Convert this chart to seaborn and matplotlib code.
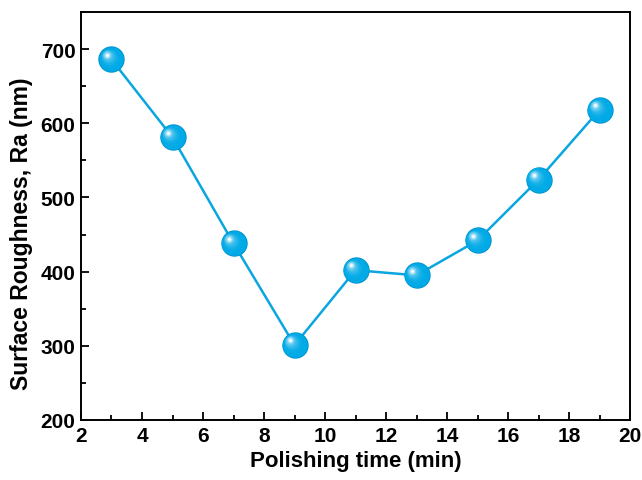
import numpy as np
import pandas as pd
import matplotlib
matplotlib.use("Agg")
import matplotlib.pyplot as plt
import matplotlib.transforms as mtransforms
from matplotlib.colors import to_rgb
from matplotlib.ticker import MultipleLocator
import seaborn as sns

# Polishing time (min) and measured surface roughness Ra (nm)
polishing_time = [3, 5, 7, 9, 11, 13, 15, 17, 19]
roughness_ra = [686, 581, 438, 301, 402, 395, 442, 524, 618]

sns.set_style("ticks")
plt.rcParams["font.family"] = ["Liberation Sans", "DejaVu Sans"]
plt.rcParams["font.weight"] = "bold"
plt.rcParams["text.color"] = "black"
plt.rcParams["axes.labelcolor"] = "black"
plt.rcParams["xtick.color"] = "black"
plt.rcParams["ytick.color"] = "black"

df = pd.DataFrame({"time": polishing_time, "ra": roughness_ra})

fig = plt.figure(figsize=(6.42, 4.81), dpi=100)
ax = fig.add_axes([81 / 642, 1 - 421 / 481, 549 / 642, 408 / 481])

base = "#00aae6"
sns.lineplot(data=df, x="time", y="ra", ax=ax, color="#0aa6e0", lw=1.8,
             marker=None, zorder=2)

# Shaded spheres: stacked discs shrinking toward an upper-left highlight
msize = 19
base_rgb = np.array(to_rgb(base))
dark_rgb = np.array(to_rgb("#0092cc"))
white = np.array([1.0, 1.0, 1.0])
ax.plot(df["time"], df["ra"], ls="none", marker="o", ms=msize,
        mfc=dark_rgb, mec="none", zorder=3)
n = 22
for i in range(n):
    f = i / (n - 1)
    size = msize * (0.93 - 0.85 * f)
    w = f ** 3.0
    col = base_rgb * (1 - w) + white * w
    shift = (msize / 2) * 0.36 * min(1.0, f * 1.3)
    tr = mtransforms.offset_copy(ax.transData, fig=fig, x=-shift, y=shift,
                                 units="points")
    ax.plot(df["time"], df["ra"], ls="none", marker="o", ms=size,
            mfc=col, mec="none", transform=tr, zorder=3 + i * 0.01)

ax.set_xlim(2, 20)
ax.set_ylim(200, 750)
ax.xaxis.set_major_locator(MultipleLocator(2))
ax.xaxis.set_minor_locator(MultipleLocator(1))
ax.yaxis.set_major_locator(MultipleLocator(100))
ax.yaxis.set_minor_locator(MultipleLocator(50))
ax.tick_params(which="both", direction="in", top=False, right=False,
               width=1.3, color="black", labelcolor="black", labelsize=15,
               pad=4)
ax.tick_params(which="major", length=6)
ax.tick_params(which="minor", length=3.5)
for lab in ax.get_xticklabels() + ax.get_yticklabels():
    lab.set_fontweight("bold")
for sp in ax.spines.values():
    sp.set_linewidth(1.4)
    sp.set_color("black")

ax.set_xlabel("Polishing time (min)", fontsize=16, fontweight="bold",
              color="black", labelpad=4)
ax.set_ylabel("Surface Roughness, Ra (nm)", fontsize=16.5, fontweight="bold",
              color="black")
ax.yaxis.set_label_coords(-0.088, 0.46)

fig.savefig("out.png", dpi=100)
